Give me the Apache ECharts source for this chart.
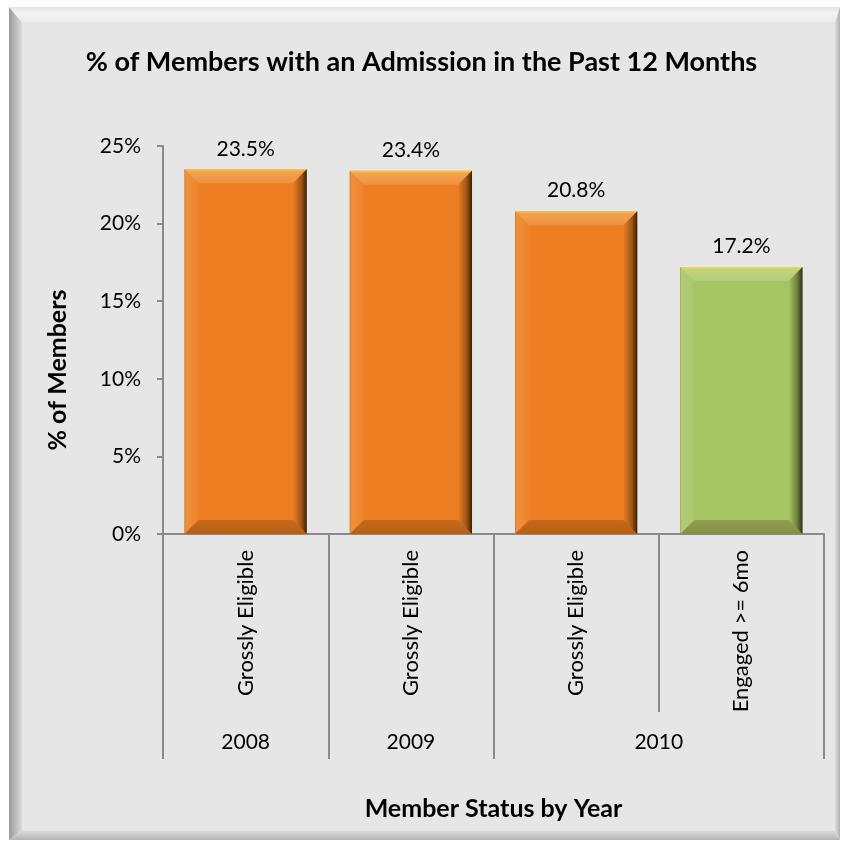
<!DOCTYPE html>
<html>
<head>
<meta charset="utf-8">
<script src="https://cdn.jsdelivr.net/npm/echarts@6/dist/echarts.min.js"></script>
<style>
html,body{margin:0;padding:0;background:#ffffff;}
#chart{width:843px;height:847px;}
</style>
</head>
<body>
<div id="chart"></div>
<script>
// ---- data ----
const statuses = ['Grossly Eligible', 'Grossly Eligible', 'Grossly Eligible', 'Engaged >= 6mo'];
const pctMembers = [23.5, 23.4, 20.8, 17.2];
const yearLabels = ['2008', '2009', '2010'];
const yearSpans = [1, 1, 2];
const yTicks = [0, 5, 10, 15, 20, 25];

// ---- styles ----
const FONT = 'Lato, "Open Sans", sans-serif';
const statusColor = s => s.indexOf('Engaged') === 0 ? '#a5c663' : '#ed7f22';
const BAR_RATIO = 0.74;
const GRID = {left: 163, right: 19, top: 146, bottom: 313};

// year group boundaries / centers (derived from spans)
const yearBounds = [0];
yearSpans.forEach(s => yearBounds.push(yearBounds[yearBounds.length - 1] + s));
const yearCenters = yearSpans.map((s, i) => yearBounds[i] + s / 2);

const chart = echarts.init(document.getElementById('chart'), null, {renderer: 'canvas'});

function bevel(params, api) {
  const idx = api.value(0), val = api.value(1);
  const top = api.coord([idx, val]);
  const base = api.coord([idx, 0]);
  const w = api.size([1, 0])[0] * BAR_RATIO;
  const x0 = top[0] - w / 2, x1 = top[0] + w / 2, y0 = top[1], y1 = base[1];
  const b = 14;
  const G = echarts.graphic;
  return {
    type: 'group',
    silent: true,
    children: [
      {type: 'polygon', shape: {points: [[x0, y0], [x1, y0], [x1 - b, y0 + b], [x0 + b, y0 + b]]},
        style: {fill: new G.LinearGradient(0, 0, 0, 1, [
          {offset: 0, color: 'rgba(255,215,60,0.85)'},
          {offset: 0.15, color: 'rgba(255,230,150,0.35)'},
          {offset: 1, color: 'rgba(255,255,255,0.12)'}])}},
      {type: 'polygon', shape: {points: [[x0, y1], [x1, y1], [x1 - b, y1 - b], [x0 + b, y1 - b]]},
        style: {fill: new G.LinearGradient(0, 0, 0, 1, [
          {offset: 0, color: 'rgba(60,30,0,0.22)'},
          {offset: 1, color: 'rgba(60,30,0,0.32)'}])}},
      {type: 'polygon', shape: {points: [[x0, y0], [x0 + b, y0 + b], [x0 + b, y1 - b], [x0, y1]]},
        style: {fill: new G.LinearGradient(0, 0, 1, 0, [
          {offset: 0, color: 'rgba(120,90,0,0.45)'},
          {offset: 0.12, color: 'rgba(255,240,200,0.15)'},
          {offset: 1, color: 'rgba(255,255,255,0.04)'}])}},
      {type: 'polygon', shape: {points: [[x1, y0], [x1 - b, y0 + b], [x1 - b, y1 - b], [x1, y1]]},
        style: {fill: new G.LinearGradient(0, 0, 1, 0, [
          {offset: 0, color: 'rgba(0,0,0,0.0)'},
          {offset: 0.6, color: 'rgba(20,10,0,0.35)'},
          {offset: 1, color: 'rgba(10,10,0,0.8)'}])}}
    ]
  };
}

const option = {
  backgroundColor: '#ffffff',
  animation: false,
  textStyle: {fontFamily: FONT},
  graphic: [
    {type: 'polygon', z: -10, silent: true, shape: {points: [[9, 7], [22, 22], [22, 831], [9, 840]]},
      style: {fill: new echarts.graphic.LinearGradient(0, 0, 1, 0, [
        {offset: 0, color: '#9a9a9a'}, {offset: 1, color: '#dcdcdc'}])}},
    {type: 'polygon', z: -10, silent: true, shape: {points: [[9, 7], [840, 7], [835, 22], [22, 22]]},
      style: {fill: new echarts.graphic.LinearGradient(0, 0, 0, 1, [
        {offset: 0, color: '#e4e4e4'}, {offset: 0.4, color: '#f4f4f4'}, {offset: 1, color: '#ebebeb'}])}},
    {type: 'polygon', z: -10, silent: true, shape: {points: [[840, 7], [840, 840], [835, 831], [835, 22]]},
      style: {fill: new echarts.graphic.LinearGradient(0, 0, 1, 0, [
        {offset: 0, color: '#dedede'}, {offset: 1, color: '#b0b0b0'}])}},
    {type: 'polygon', z: -10, silent: true, shape: {points: [[9, 840], [840, 840], [835, 831], [22, 831]]},
      style: {fill: new echarts.graphic.LinearGradient(0, 0, 0, 1, [
        {offset: 0, color: '#dadada'}, {offset: 1, color: '#b4b4b4'}])}},
    {type: 'rect', z: -10, silent: true, shape: {x: 22, y: 22, width: 813, height: 809},
      style: {fill: '#e6e6e6'}}
  ],
  title: {
    text: '% of Members with an Admission in the Past 12 Months',
    left: 'center',
    top: 44,
    textStyle: {fontFamily: FONT, fontWeight: 'bold', fontSize: 27, color: '#000'}
  },
  grid: {left: GRID.left, right: GRID.right, top: GRID.top, bottom: GRID.bottom, containLabel: false},
  xAxis: [
    {
      type: 'category',
      data: statuses,
      position: 'bottom',
      name: 'Member Status by Year',
      nameLocation: 'middle',
      nameGap: 262,
      nameTextStyle: {fontFamily: FONT, fontWeight: 'bold', fontSize: 25, color: '#000'},
      axisLine: {show: true, lineStyle: {color: '#8a8a8a', width: 2}},
      axisTick: {show: true, interval: 0, length: 178, lineStyle: {color: '#8a8a8a', width: 2}},
      axisLabel: {interval: 0, rotate: 90, margin: 16, fontSize: 22, color: '#000', fontFamily: FONT},
      splitLine: {show: false}
    },
    {
      type: 'value',
      min: 0,
      max: statuses.length,
      position: 'bottom',
      offset: 178,
      axisLine: {show: false},
      axisTick: {show: true, customValues: yearBounds, length: 47, lineStyle: {color: '#8a8a8a', width: 2}},
      axisLabel: {
        customValues: yearCenters, margin: 20, fontSize: 21, color: '#000', fontFamily: FONT,
        formatter: v => { const i = yearCenters.indexOf(v); return i >= 0 ? yearLabels[i] : ''; }
      },
      splitLine: {show: false}
    }
  ],
  yAxis: {
    type: 'value',
    min: yTicks[0],
    max: yTicks[yTicks.length - 1],
    interval: yTicks[1] - yTicks[0],
    name: '% of Members',
    nameLocation: 'middle',
    nameGap: 93,
    nameRotate: 90,
    nameTextStyle: {fontFamily: FONT, fontWeight: 'bold', fontSize: 25, color: '#000', padding: [0, 60, 0, 0]},
    axisLine: {show: true, lineStyle: {color: '#8a8a8a', width: 2}},
    axisTick: {show: true, length: 6, lineStyle: {color: '#8a8a8a', width: 2}},
    axisLabel: {margin: 22, fontSize: 21, color: '#000', fontFamily: FONT, formatter: '{value}%'},
    splitLine: {show: false}
  },
  series: [
    {
      type: 'bar',
      xAxisIndex: 0,
      barWidth: (BAR_RATIO * 100) + '%',
      data: pctMembers.map((v, i) => ({value: v, itemStyle: {color: statusColor(statuses[i])}})),
      label: {
        show: true, position: 'top', distance: 10,
        fontSize: 21, color: '#000', fontFamily: FONT,
        formatter: p => p.value.toFixed(1) + '%'
      },
      z: 2
    },
    {
      type: 'custom',
      xAxisIndex: 0,
      renderItem: bevel,
      data: pctMembers.map((v, i) => [i, v]),
      z: 3,
      silent: true
    }
  ]
};
chart.setOption(option);
</script>
</body>
</html>
